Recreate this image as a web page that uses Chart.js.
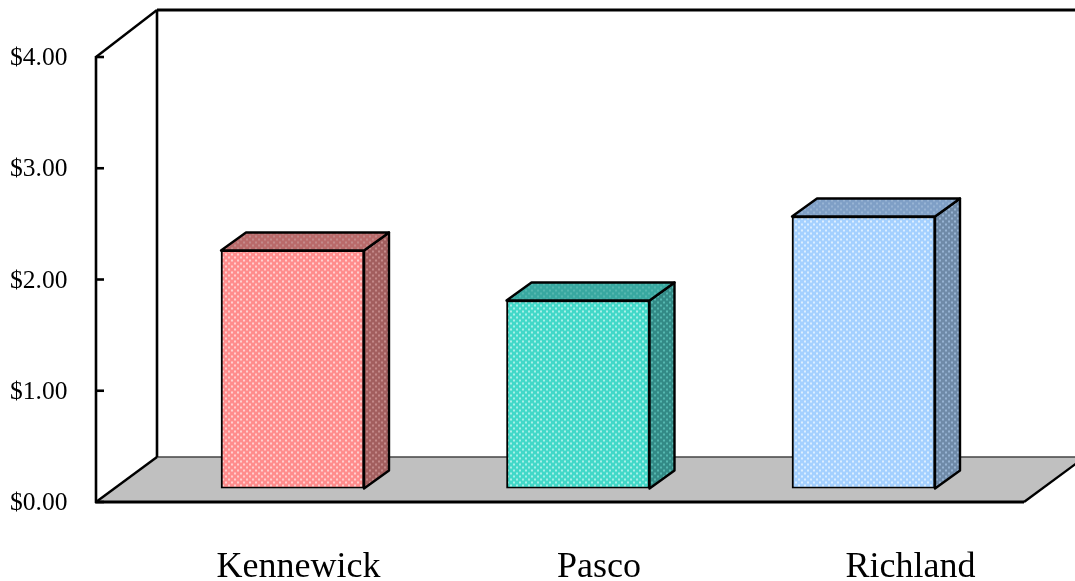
<!DOCTYPE html>
<html>
<head>
<meta charset="utf-8">
<title>Chart</title>
<script src="https://cdn.jsdelivr.net/npm/chart.js@4/dist/chart.umd.min.js"></script>
<style>
html, body { margin: 0; padding: 0; background: #fff; overflow: hidden; }
#wrap { width: 1075px; height: 581px; }
</style>
</head>
<body>
<div id="wrap"><canvas id="chart"></canvas></div>
<script>
const cities = ['Kennewick', 'Pasco', 'Richland'];
const prices = [2.14, 1.69, 2.445];
const yTicks = [0, 1, 2, 3, 4];

const frontColors = ['#ff8c8c', '#42d8c8', '#a4d0ff'];
const topColors = ['#b96a6a', '#38a8a0', '#7f9fc6'];
const sideColors = ['#a25e5e', '#338a86', '#6f8aa8'];
const dotColors = ['#ffd0d0', '#a8f0e8', '#dceeff'];
const dimColors = ['#c48a8a', '#55b8b0', '#98b4d4'];

// depth of the box around the plot, and of the bars inside it
const WALL_DX = 61, WALL_DY = 45;
const BAR_DX = 25, BAR_DY = 18, BAR_LIFT = 13.5;
const AXIS_LEFT = 96, FLOOR_RIGHT = 1024;
const NAME_SHIFT = [6, 21, 47];

function dots(base, dot) {
  const c = document.createElement('canvas');
  c.width = 6; c.height = 6;
  const g = c.getContext('2d');
  g.fillStyle = base;
  g.fillRect(0, 0, 6, 6);
  g.fillStyle = dot;
  g.fillRect(0, 0, 2, 2);
  g.fillRect(3, 3, 2, 2);
  return c;
}

function line(ctx, x1, y1, x2, y2, w, color) {
  ctx.strokeStyle = color || '#000';
  ctx.lineWidth = w;
  ctx.beginPath();
  ctx.moveTo(x1, y1);
  ctx.lineTo(x2, y2);
  ctx.stroke();
}

function poly(ctx, pts, fill, w) {
  ctx.beginPath();
  pts.forEach((p, i) => i ? ctx.lineTo(p[0], p[1]) : ctx.moveTo(p[0], p[1]));
  ctx.closePath();
  ctx.fillStyle = fill;
  ctx.fill();
  if (w) {
    ctx.lineWidth = w;
    ctx.strokeStyle = '#000';
    ctx.lineJoin = 'round';
    ctx.stroke();
  }
}

const box3d = {
  id: 'box3d',
  beforeDatasetsDraw(chart) {
    const ctx = chart.ctx;
    const y = chart.scales.y;
    const y0 = y.getPixelForValue(0);
    const y4 = y.getPixelForValue(4);
    const backX = AXIS_LEFT + WALL_DX;
    const backRight = FLOOR_RIGHT + WALL_DX;
    ctx.save();
    poly(ctx, [[AXIS_LEFT, y0], [backX, y0 - WALL_DY], [backRight, y0 - WALL_DY], [FLOOR_RIGHT, y0]], '#c0c0c0');
    line(ctx, backX, y0 - WALL_DY, backRight, y0 - WALL_DY, 1.4, '#444');
    line(ctx, AXIS_LEFT, y0, backX, y0 - WALL_DY, 2.4);
    line(ctx, FLOOR_RIGHT, y0, backRight, y0 - WALL_DY, 2.4);
    line(ctx, AXIS_LEFT - 1, y0, FLOOR_RIGHT, y0, 3);
    line(ctx, AXIS_LEFT, y4 - 1, AXIS_LEFT, y0 + 1, 2.6);
    line(ctx, backX, y4 - WALL_DY - 2, backX, y0 - WALL_DY, 2.6);
    line(ctx, AXIS_LEFT, y4, backX, y4 - WALL_DY - 2, 2.4);
    line(ctx, backX, y4 - WALL_DY - 2, backRight, y4 - WALL_DY - 2, 3);
    yTicks.forEach(v => {
      const p = y.getPixelForValue(v);
      line(ctx, AXIS_LEFT, p, AXIS_LEFT + 8, p, 2.6);
    });
    ctx.restore();

    // bars stand a little way back from the front edge of the floor
    ctx.save();
    ctx.translate(0, -BAR_LIFT);
    chart.getDatasetMeta(0).data.forEach((bar, i) => {
      const l = bar.x - bar.width / 2, r = bar.x + bar.width / 2;
      poly(ctx, [[r, bar.y], [r + BAR_DX, bar.y - BAR_DY], [r + BAR_DX, bar.base - BAR_DY], [r, bar.base]],
        ctx.createPattern(dots(sideColors[i], dimColors[i]), 'repeat'), 2.4);
      poly(ctx, [[l, bar.y], [l + BAR_DX, bar.y - BAR_DY], [r + BAR_DX, bar.y - BAR_DY], [r, bar.y]],
        ctx.createPattern(dots(topColors[i], dimColors[i]), 'repeat'), 2.4);
    });
  },
  afterDatasetsDraw(chart) {
    chart.ctx.restore();
  },
  afterDraw(chart) {
    const ctx = chart.ctx;
    const x = chart.scales.x;
    ctx.save();
    ctx.font = '36px "Liberation Serif"';
    ctx.fillStyle = '#000';
    ctx.textAlign = 'center';
    ctx.textBaseline = 'alphabetic';
    cities.forEach((name, i) => ctx.fillText(name, x.getPixelForTick(i) + NAME_SHIFT[i], 577));
    ctx.restore();
  }
};

new Chart(document.getElementById('chart'), {
  type: 'bar',
  data: {
    labels: cities,
    datasets: [{
      data: prices,
      backgroundColor: frontColors.map((c, i) => document.createElement('canvas').getContext('2d').createPattern(dots(c, dotColors[i]), 'repeat')),
      borderColor: '#000',
      borderWidth: 2,
      borderSkipped: false,
      barThickness: 143
    }]
  },
  options: {
    responsive: true,
    maintainAspectRatio: false,
    animation: false,
    layout: { padding: { left: 10, right: 68.75, top: 57, bottom: 0 } },
    plugins: { legend: { display: false }, tooltip: { enabled: false } },
    scales: {
      x: {
        grid: { display: false },
        border: { display: false },
        ticks: { display: false },
        afterFit: s => { s.height = 79; }
      },
      y: {
        min: 0,
        max: 4,
        afterBuildTicks: s => { s.ticks = yTicks.map(v => ({ value: v })); },
        afterFit: s => { s.width = 139.75; },
        grid: { display: false },
        border: { display: false },
        ticks: {
          padding: 0,
          crossAlign: 'far',
          labelOffset: 1.5,
          color: '#000',
          font: { family: '"Liberation Serif"', size: 25.5 },
          callback: v => '$' + Number(v).toFixed(2)
        }
      }
    }
  },
  plugins: [box3d]
});
</script>
</body>
</html>
